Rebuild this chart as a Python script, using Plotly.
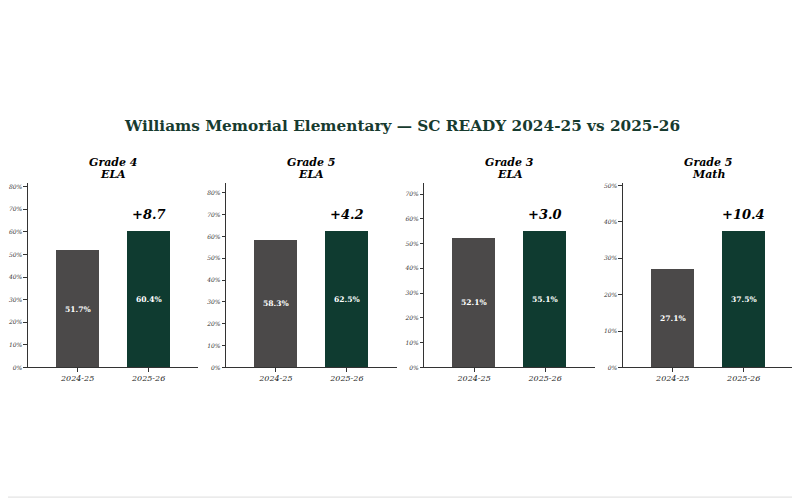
import plotly.graph_objects as go

title = "Williams Memorial Elementary — SC READY 2024-25 vs 2025-26"
panel_grades = ["Grade 4", "Grade 5", "Grade 3", "Grade 5"]
panel_subjects = ["ELA", "ELA", "ELA", "Math"]
years = ["2024-25", "2025-26"]
prev_values = [51.7, 58.3, 52.1, 27.1]
curr_values = [60.4, 62.5, 55.1, 37.5]

GRAY = "#4b4949"
GREEN = "#0f3b30"
FONT = "DejaVu Serif"

W, H = 800, 501
OFF = 8  # page body margin
top_px, bot_px = 183 - OFF, 369 - OFF
lefts = [25 - OFF, 224 - OFF, 423 - OFF, 622.3 - OFF]
pw = 171


def py(px):
    return 1 - px / H


fig = go.Figure()
annotations = []
for i in range(4):
    ax = "" if i == 0 else str(i + 1)
    xa, ya = "x" + ax, "y" + ax
    vals = [prev_values[i], curr_values[i]]
    fig.add_trace(go.Bar(
        x=[0, 1], y=vals, xaxis=xa, yaxis=ya, width=0.6,
        marker=dict(color=[GRAY, GREEN], line=dict(width=0)),
        hoverinfo="skip", showlegend=False,
    ))
    ymax = max(vals) * 1.35
    for j, v in enumerate(vals):
        annotations.append(dict(
            x=j, y=v / 2, xref=xa, yref=ya, text=f"<b>{v:.1f}%</b>",
            showarrow=False, font=dict(family=FONT, size=7.6, color="white"),
            xanchor="center", yanchor="middle",
        ))
    diff = curr_values[i] - prev_values[i]
    annotations.append(dict(
        x=1, y=curr_values[i], xref=xa, yref=ya,
        text=f"<b><i>{diff:+.1f}</i></b>", showarrow=False,
        font=dict(family=FONT, size=13, color="black"),
        xanchor="center", yanchor="bottom", yshift=7,
    ))
    x0 = lefts[i] / W
    x1 = (lefts[i] + pw) / W
    annotations.append(dict(
        x=(x0 + x1) / 2, y=py(162 - OFF), xref="paper", yref="paper",
        text=f"<b><i>{panel_grades[i]}</i></b>",
        showarrow=False, font=dict(family=FONT, size=11, color="black"),
        xanchor="center", yanchor="middle",
    ))
    annotations.append(dict(
        x=(x0 + x1) / 2, y=py(174 - OFF), xref="paper", yref="paper",
        text=f"<b><i>{panel_subjects[i]}</i></b>",
        showarrow=False, font=dict(family=FONT, size=11, color="black"),
        xanchor="center", yanchor="middle",
    ))
    axis_common = dict(showline=True, linecolor="#333333", linewidth=1,
                       ticks="outside", ticklen=3.5, tickcolor="#333333",
                       showgrid=False, zeroline=False)
    fig.update_layout(**{
        ("xaxis" + ax): dict(domain=[x0, x1], range=[-0.7, 1.7],
                             tickvals=[0, 1], ticktext=years,
                             tickfont=dict(family=FONT, size=8, color="#222222", style="italic"),
                             anchor=ya, **axis_common),
        ("yaxis" + ax): dict(domain=[py(bot_px), py(top_px)], range=[0, ymax],
                             dtick=10, ticksuffix="%", tickformat="d", anchor=xa,
                             tickfont=dict(family=FONT, size=6, color="#333333", style="italic"),
                             **axis_common),
    })

annotations.append(dict(
    x=(400 - OFF) / W, y=py(125 - OFF), xref="paper", yref="paper",
    text=f"<b>{title}</b>", showarrow=False,
    font=dict(family=FONT, size=15.3, color="#173b2f"),
    xanchor="center", yanchor="middle",
))

fig.update_layout(
    width=W, height=H, margin=dict(l=0, r=0, t=0, b=0),
    paper_bgcolor="white", plot_bgcolor="white",
    annotations=annotations, bargap=0,
    shapes=[dict(type="line", xref="paper", yref="paper", x0=-0.02, x1=1.02,
                 y0=py(500 - OFF), y1=py(500 - OFF), line=dict(color="#dddddd", width=1))],
)

fig.write_html("out.html")
